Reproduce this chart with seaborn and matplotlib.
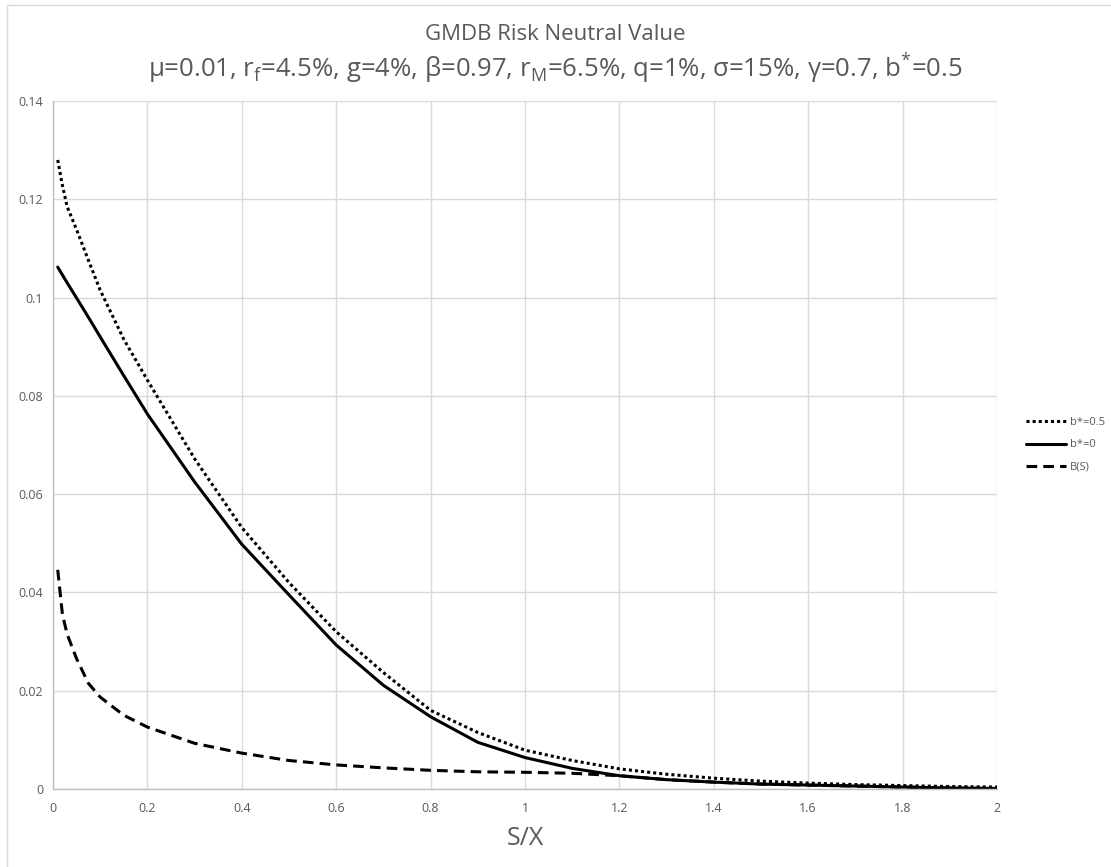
import matplotlib
matplotlib.use("Agg")
import matplotlib.pyplot as plt
import matplotlib.ticker as mticker
from matplotlib.patches import Rectangle
import numpy as np
import pandas as pd
import seaborn as sns

# ---- data ----
sx = [0.01, 0.02, 0.03, 0.05, 0.075, 0.1, 0.15, 0.2, 0.3, 0.4, 0.5, 0.6, 0.7, 0.8, 0.9,
      1.0, 1.1, 1.2, 1.3, 1.4, 1.5, 1.6, 1.7, 1.8, 1.9, 2.0]
b_half = [0.128, 0.1228, 0.1185, 0.1138, 0.1076, 0.1015, 0.0915, 0.0832, 0.0672, 0.0532,
          0.0420, 0.0320, 0.0237, 0.0160, 0.0115, 0.0079, 0.0058, 0.0041, 0.0030, 0.0022,
          0.0016, 0.0012, 0.0009, 0.0007, 0.0005, 0.0004]
b_zero = [0.1062, 0.1046, 0.1030, 0.0999, 0.0960, 0.0920, 0.0841, 0.0763, 0.0625, 0.0498,
          0.0395, 0.0293, 0.0211, 0.0147, 0.0095, 0.0064, 0.0042, 0.0027, 0.0019, 0.0014,
          0.0010, 0.0008, 0.0006, 0.0004, 0.0002, 0.0001]
b_s = [0.0446, 0.0355, 0.0315, 0.0265, 0.0215, 0.0187, 0.0150, 0.0126, 0.0093, 0.0073,
       0.0058, 0.0049, 0.0043, 0.0038, 0.0035, 0.0034, 0.0032, 0.0027, 0.0019, 0.0014,
       0.0010, 0.0008, 0.0006, 0.0004, 0.0002, 0.0001]
series_labels = ["b*=0.5", "b*=0", "B(S)"]
x_ticks = [0, 0.2, 0.4, 0.6, 0.8, 1.0, 1.2, 1.4, 1.6, 1.8, 2.0]
y_ticks = [0, 0.02, 0.04, 0.06, 0.08, 0.10, 0.12, 0.14]

sns.set_style("white")
plt.rcParams["font.family"] = ["Open Sans", "DejaVu Sans"]

fig = plt.figure(figsize=(11.11, 8.67), dpi=100)
ax = fig.add_axes([53/1111, 1-789/867, (997-53)/1111, (789-101)/867])

df = pd.DataFrame({"x": sx * 3,
                   "y": b_half + b_zero + b_s,
                   "series": [series_labels[0]] * len(sx) + [series_labels[1]] * len(sx)
                             + [series_labels[2]] * len(sx)})

styles = {
    series_labels[0]: dict(linestyle=(0, (1, 1)), linewidth=2.2),
    series_labels[1]: dict(linestyle="-", linewidth=2.2),
    series_labels[2]: dict(linestyle=(0, (3.5, 2)), linewidth=2.2),
}
for lab in series_labels:
    sub = df[df["series"] == lab]
    sns.lineplot(data=sub, x="x", y="y", ax=ax, color="black", label=lab,
                 **styles[lab])

ax.set_xlim(0, 2)
ax.set_ylim(0, 0.14)
ax.set_xticks(x_ticks)
ax.set_yticks(y_ticks)
fmt = mticker.FuncFormatter(lambda v, p: f"{v:g}")
ax.xaxis.set_major_formatter(fmt)
ax.yaxis.set_major_formatter(fmt)
ax.grid(True, color="#d9d9d9", linewidth=1)
ax.set_axisbelow(True)
for s in ["top", "right"]:
    ax.spines[s].set_visible(False)
for s in ["left", "bottom"]:
    ax.spines[s].set_color("#bfbfbf")
    ax.spines[s].set_linewidth(1)
ax.tick_params(axis="both", length=0, labelsize=9, labelcolor="#595959")
ax.tick_params(axis="y", pad=7)
ax.tick_params(axis="x", pad=9)
ax.set_ylabel("")
ax.set_xlabel("S/X", fontsize=18, color="#595959", labelpad=8)

fig.text(0.5, 1-35/867, "GMDB Risk Neutral Value", ha="center", va="center",
         fontsize=16, color="#595959")
fig.text(0.5, 1-68/867,
         "μ=0.01, r$_\\mathregular{f}$=4.5%, g=4%, β=0.97, r$_\\mathregular{M}$=6.5%, "
         "q=1%, σ=15%, γ=0.7, b$^\\mathregular{*}$=0.5",
         ha="center", va="center", fontsize=18.5, color="#595959")

leg = ax.legend(loc="center left", bbox_to_anchor=(1.02, 0.50), frameon=False,
                fontsize=8, handlelength=3.6, labelspacing=1.0, handletextpad=0.4)
for t in leg.get_texts():
    t.set_color("#595959")

fig.patches.append(Rectangle((7/1111, -0.5), 2, 1.5 - 5/867, transform=fig.transFigure,
                             fill=False, edgecolor="#d9d9d9", linewidth=1))

fig.savefig("out.png", dpi=100, facecolor="white")
